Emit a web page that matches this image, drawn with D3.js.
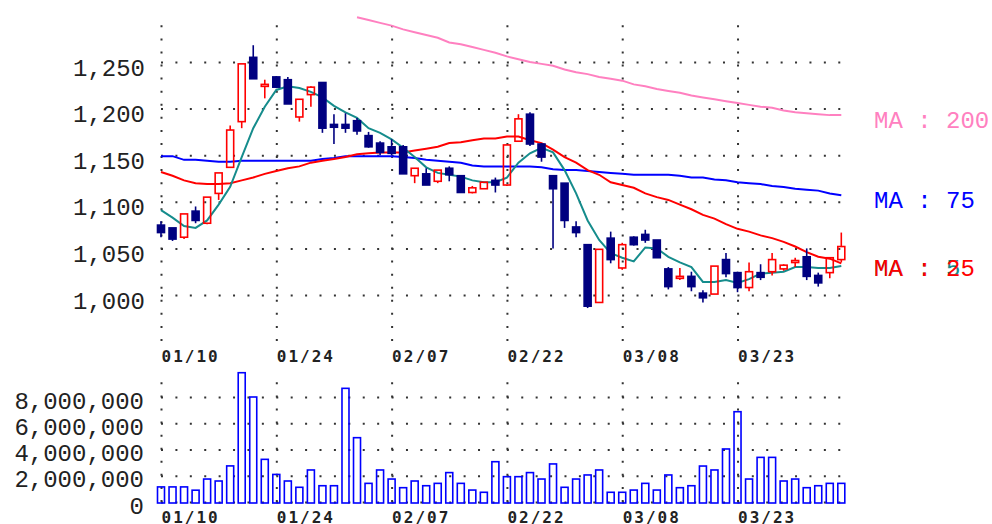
<!DOCTYPE html>
<html>
<head>
<meta charset="utf-8">
<script src="https://cdn.jsdelivr.net/npm/d3@7"></script>
<style>
  body { margin: 0; background: #fff; }
</style>
</head>
<body>
<script>
// trading days shown on the chart
const dates = [
  "01/10","01/11","01/12","01/15","01/16","01/17","01/18","01/19","01/22","01/23",
  "01/24","01/25","01/26","01/29","01/30","01/31","02/01","02/02","02/05","02/06",
  "02/07","02/08","02/09","02/13","02/14","02/15","02/16","02/19","02/20","02/21",
  "02/22","02/23","02/26","02/27","02/28","03/01","03/02","03/05","03/06","03/07",
  "03/08","03/09","03/12","03/13","03/14","03/15","03/16","03/19","03/20","03/22",
  "03/23","03/26","03/27","03/28","03/29","03/30","04/02","04/03","04/04","04/05"
];

const opens = [
  1075,1072,1062,1090,1077,1109,1137,1186,1255,1224,
  1234,1231,1191,1215,1228,1183,1183,1187,1171,1163,
  1159,1159,1128,1130,1122,1136,1128,1110,1114,1123,
  1118,1165,1194,1162,1128,1120,1073,1054,992,1061,
  1029,1062,1065,1059,1028,1018,1020,1002,1001,1038,
  1024,1008,1024,1025,1028,1035,1041,1021,1024,1038
];
const highs = [
  1079,1072,1087,1095,1105,1131,1182,1248,1268,1231,
  1235,1234,1210,1224,1228,1194,1195,1190,1175,1165,
  1167,1161,1136,1136,1134,1138,1128,1117,1121,1126,
  1161,1194,1196,1163,1128,1120,1079,1054,1049,1068,
  1056,1063,1070,1059,1030,1029,1025,1005,1031,1045,
  1025,1035,1033,1045,1033,1040,1050,1024,1040,1067
];
const lows = [
  1062,1058,1060,1077,1076,1102,1137,1179,1232,1211,
  1222,1205,1186,1202,1174,1162,1174,1172,1158,1150,
  1150,1130,1120,1118,1120,1122,1110,1109,1114,1110,
  1117,1165,1160,1143,1050,1072,1062,986,992,1034,
  1027,1053,1056,1040,1006,1016,1004,992,1001,1019,
  1003,1004,1016,1021,1026,1030,1016,1009,1018,1035
];
const closes = [
  1067,1060,1087,1080,1105,1131,1177,1248,1232,1226,
  1223,1205,1210,1223,1179,1180,1179,1176,1159,1153,
  1152,1130,1136,1118,1134,1129,1110,1115,1121,1118,
  1161,1189,1162,1148,1114,1080,1067,988,1049,1038,
  1054,1054,1059,1040,1009,1020,1009,997,1031,1023,
  1008,1025,1019,1038,1032,1037,1020,1013,1040,1052
];
const volumes = [
  1150000,1150000,1150000,900000,1750000,1600000,2750000,9850000,8000000,3250000,
  2100000,1600000,1120000,2440000,1240000,1240000,8660000,4900000,1420000,2440000,
  1750000,1090000,1600000,1240000,1420000,2240000,1420000,910000,740000,3070000,
  1930000,1930000,2240000,1750000,2900000,1120000,1750000,2060000,2440000,740000,
  740000,910000,1420000,910000,2060000,1090000,1240000,2740000,2440000,4040000,
  6880000,1750000,3400000,3400000,1600000,1750000,1090000,1240000,1420000,1420000
];

// moving averages
const ma5 = [
  1091,1083,1074,1072,1080,1097,1116,1148,1179,1202,
  1220,1224,1222,1218,1212,1203,1196,1190,1179,1174,
  1167,1158,1148,1137,1131,1129,1127,1123,1121,1121,
  1126,1142,1152,1158,1153,1134,1109,1080,1059,1045,
  1040,1036,1051,1050,1041,1035,1030,1014,1014,1016,
  1013,1017,1023,1024,1025,1030,1030,1029,1029,1031
];
const ma25 = [
  1132,1128,1123,1120,1119,1119,1120,1123,1126,1130,
  1133,1136,1138,1142,1144,1146,1148,1151,1152,1153,
  1153,1153,1155,1157,1159,1163,1164,1166,1168,1168,
  1170,1170,1166,1163,1156,1148,1142,1134,1129,1121,
  1118,1115,1109,1105,1102,1097,1092,1086,1082,1076,
  1071,1068,1064,1061,1057,1052,1046,1041,1039,1034
];
const ma75 = [
  1149,1149,1145,1145,1144,1143,1143,1144,1144,1144,
  1144,1144,1144,1144,1146,1147,1149,1149,1149,1149,
  1149,1148,1147,1145,1144,1143,1142,1139,1138,1138,
  1138,1138,1138,1137,1135,1134,1134,1133,1132,1131,
  1130,1129,1129,1129,1129,1128,1126,1126,1124,1123,
  1121,1120,1119,1117,1116,1114,1113,1112,1109,1107
];
const ma200 = [
  null,null,null,null,null,null,null,null,null,null,
  null,null,null,null,null,null,null,1298,1295,1292,
  1289,1285,1282,1279,1276,1271,1269,1266,1263,1260,
  1256,1253,1250,1248,1246,1242,1239,1237,1234,1232,
  1230,1226,1224,1221,1219,1217,1214,1212,1210,1208,
  1206,1204,1202,1201,1198,1196,1195,1194,1193,1193
];

const priceTicks  = [1000, 1050, 1100, 1150, 1200, 1250];
const volumeTicks = [0, 2000000, 4000000, 6000000, 8000000];
const dateTicks   = ["01/10", "01/24", "02/07", "02/22", "03/08", "03/23"];

window.onload = () => drawChart();

function drawChart() {
  const W = 992, H = 524;
  const left = 161, right = 850;
  const monoFont = "Liberation Mono, DejaVu Sans Mono, monospace";

  const svg = d3.select("body").append("svg")
    .attr("width", W).attr("height", H);

  const x  = d3.scalePoint().domain(dates).range([161, 841.3]);
  const y  = d3.scaleLinear().domain([1000, 1250]).range([295, 62]);
  const yv = d3.scaleLinear().domain([0, 8000000]).range([502, 397]);

  const dotH = g => g.selectAll(".tick line")
    .attr("stroke", "#333").attr("stroke-width", 2).attr("stroke-dasharray", "2,12.41");
  const dotV = g => g.selectAll(".tick line")
    .attr("stroke", "#333").attr("stroke-width", 2).attr("stroke-dasharray", "2,11.07");

  // price grid + labels
  svg.append("g")
    .attr("transform", `translate(${left},0)`)
    .call(d3.axisLeft(y).tickValues(priceTicks).tickSize(-(right - left))
      .tickPadding(16).tickFormat(d3.format(",")))
    .call(g => g.select(".domain").remove())
    .call(dotH)
    .call(g => g.selectAll("text")
      .attr("dy", 13).attr("font-family", monoFont)
      .attr("font-size", 24).attr("fill", "#222"));

  // vertical grid of the price panel + date labels
  svg.append("g")
    .attr("transform", "translate(0,341)")
    .call(d3.axisBottom(x).tickValues(dateTicks).tickSize(-326).tickPadding(0))
    .call(g => g.select(".domain").remove())
    .call(dotV)
    .call(g => g.selectAll("text")
      .attr("y", 20.7).attr("dy", 0).attr("x", 0)
      .attr("text-anchor", "start")
      .attr("font-family", "DejaVu Sans Mono").attr("font-weight", "bold")
      .attr("font-size", 16).attr("letter-spacing", 2).attr("fill", "#222"));

  // volume grid + labels
  svg.append("g")
    .attr("transform", `translate(${left},0)`)
    .call(d3.axisLeft(yv).tickValues(volumeTicks).tickSize(-(right - left))
      .tickPadding(17).tickFormat(d3.format(",")))
    .call(g => g.select(".domain").remove())
    .call(dotH)
    .call(g => g.selectAll("text")
      .attr("dy", 11).attr("font-family", monoFont)
      .attr("font-size", 24).attr("fill", "#222"));

  svg.append("g")
    .attr("transform", "translate(0,502)")
    .call(d3.axisBottom(x).tickValues(dateTicks).tickSize(-129).tickPadding(0))
    .call(g => g.select(".domain").remove())
    .call(dotV)
    .call(g => g.selectAll("text")
      .attr("y", 21).attr("dy", 0).attr("x", 0)
      .attr("text-anchor", "start")
      .attr("font-family", "DejaVu Sans Mono").attr("font-weight", "bold")
      .attr("font-size", 16).attr("letter-spacing", 2).attr("fill", "#222"));

  // volume bars
  svg.append("g").selectAll("rect")
    .data(volumes)
    .join("rect")
      .attr("x", (d, i) => x(dates[i]) - 3.5)
      .attr("y", d => yv(d))
      .attr("width", 7)
      .attr("height", d => yv(0) - yv(d) + 1)
      .attr("fill", "none")
      .attr("stroke", "#0000ff")
      .attr("stroke-width", 1.6);

  // moving averages
  const lines = [
    { values: ma200, color: "#ff80c0" },
    { values: ma75,  color: "#0000ff" },
    { values: ma25,  color: "#ff0000" },
    { values: ma5,   color: "#158c8c" }
  ];
  const line = d3.line()
    .defined(d => d.v != null)
    .x(d => x(d.date))
    .y(d => y(d.v));

  lines.forEach(l => {
    svg.append("path")
      .datum(l.values.map((v, i) => ({ date: dates[i], v })))
      .attr("fill", "none")
      .attr("stroke", l.color)
      .attr("stroke-width", 2)
      .attr("d", line);
  });

  // candles
  const candles = svg.append("g").selectAll("g")
    .data(dates.map((d, i) => ({ date: d, o: opens[i], h: highs[i], l: lows[i], c: closes[i] })))
    .join("g");

  candles.each(function(d) {
    const g = d3.select(this);
    const cx = x(d.date);
    const up = d.c >= d.o;
    const col = up ? "#ff0000" : "#000080";
    const top = y(Math.max(d.o, d.c));
    const bot = y(Math.min(d.o, d.c));
    g.append("line").attr("x1", cx).attr("x2", cx)
      .attr("y1", y(d.h)).attr("y2", top)
      .attr("stroke", col).attr("stroke-width", 1.6);
    g.append("line").attr("x1", cx).attr("x2", cx)
      .attr("y1", bot).attr("y2", y(d.l))
      .attr("stroke", col).attr("stroke-width", 1.6);
    g.append("rect")
      .attr("x", cx - 3.5).attr("width", 7)
      .attr("y", top).attr("height", Math.max(bot - top, 2))
      .attr("fill", up ? "#fff" : col)
      .attr("fill-opacity", up ? 0 : 1)
      .attr("stroke", col).attr("stroke-width", 1.6);
  });

  // MA legend at the right end
  const lastY = arr => y(arr[arr.length - 1]) + 12.5;
  const labels = [
    { text: "MA : 200", color: "#ff80c0", yy: lastY(ma200) },
    { text: "MA : 75",  color: "#0000ff", yy: lastY(ma75) },
    { text: "MA : 5",   color: "#158c8c", yy: lastY(ma25) },
    { text: "MA : 25",  color: "#ff0000", yy: lastY(ma25) }
  ];
  svg.append("g").selectAll("text")
    .data(labels)
    .join("text")
      .attr("x", 874)
      .attr("y", d => d.yy)
      .attr("font-family", monoFont)
      .attr("font-size", 24)
      .attr("fill", d => d.color)
      .text(d => d.text);
}
</script>
</body>
</html>
